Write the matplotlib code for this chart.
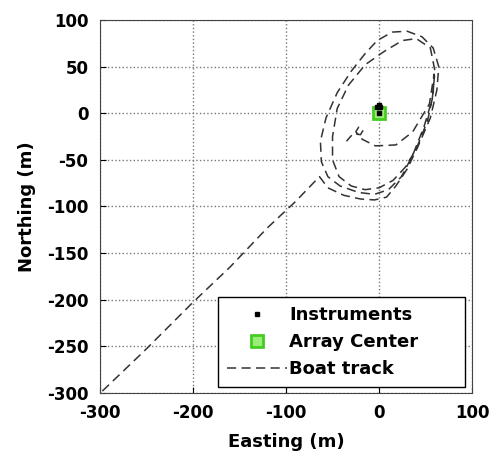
import numpy as np
import matplotlib.pyplot as plt
plt.rcParams.update({'font.size': 12, 'font.family': 'DejaVu Sans', 'font.weight': 'bold',
                     'axes.unicode_minus': False})

# instrument positions (m)
inst_e = [-2, 1, 0, 0]
inst_n = [7, 7, 9, 0]

# array center (m)
center_e = [0]
center_n = [0]

# boat track (easting, northing) in m
track_e = [-297, -250, -200, -160, -120, -90, -64,
           -55, -38, -20, -5, 8, 18, 30, 42, 55, 62, 64, 58, 46, 30, 14, -2, -15, -30, -45, -57, -63, -62, -55,
           -42, -22, -5, 10, 24, 36, 48, 57, 60, 55, 40, 25, 5, -15, -33, -45, -50, -50, -43,
           -30, -15, 0, 15, 28, 40, 52, 58, 59, 54, 36, 18, -4, -18, -25, -22, -17, -20, -28, -35]
track_n = [-298, -253, -203, -165, -123, -95, -68,
           -80, -88, -92, -93, -90, -78, -60, -35, -5, 25, 50, 70, 82, 88, 87, 78, 64, 45, 22, -5, -30, -52, -68,
           -78, -85, -87, -82, -68, -45, -15, 15, 45, 70, 80, 78, 66, 52, 30, 5, -25, -50, -68,
           -78, -82, -80, -72, -58, -38, -8, 20, 42, 10, -20, -34, -35, -28, -20, -15, -18, -23, -22, -30]

fig = plt.figure(figsize=(4.93, 4.65), dpi=100)
ax = fig.add_axes([0.202, 0.155, 0.756, 0.802])

ax.plot(track_e, track_n, color='#333333', lw=1.1, dashes=(6, 3.5), label='Boat track', zorder=2)
ax.plot(center_e, center_n, 's', mfc='#99ee77', mec='#44cc22', mew=2, ms=8, ls='none',
        label='Array Center', zorder=3)
ax.plot(inst_e, inst_n, 's', color='black', ms=3, ls='none', label='Instruments', zorder=4)

ax.set_xlim(-300, 100)
ax.set_ylim(-300, 100)
ax.set_xticks(np.arange(-300, 101, 100))
ax.set_yticks(np.arange(-300, 101, 50))
ax.grid(True, ls=':', color='#777777', lw=1)
ax.tick_params(direction='in', length=4, pad=8)
for s in ax.spines.values():
    s.set_color('#444444')

ax.set_xlabel('Easting (m)', fontweight='bold', fontsize=13, labelpad=8)
ax.set_ylabel('Northing (m)', fontweight='bold', fontsize=13, labelpad=8)

h, l = ax.get_legend_handles_labels()
leg = ax.legend([h[2], h[1], h[0]], [l[2], l[1], l[0]], loc='lower left',
                bbox_to_anchor=(0.318, 0.016, 0.663, 0.26), mode='expand', borderaxespad=0,
                fancybox=False, framealpha=1, edgecolor='black', borderpad=0.5,
                labelspacing=0.5, handlelength=3.3, handletextpad=0.15,
                prop={'weight': 'bold', 'size': 13})
leg.get_frame().set_linewidth(1.0)

plt.savefig('out.png', dpi=100)
